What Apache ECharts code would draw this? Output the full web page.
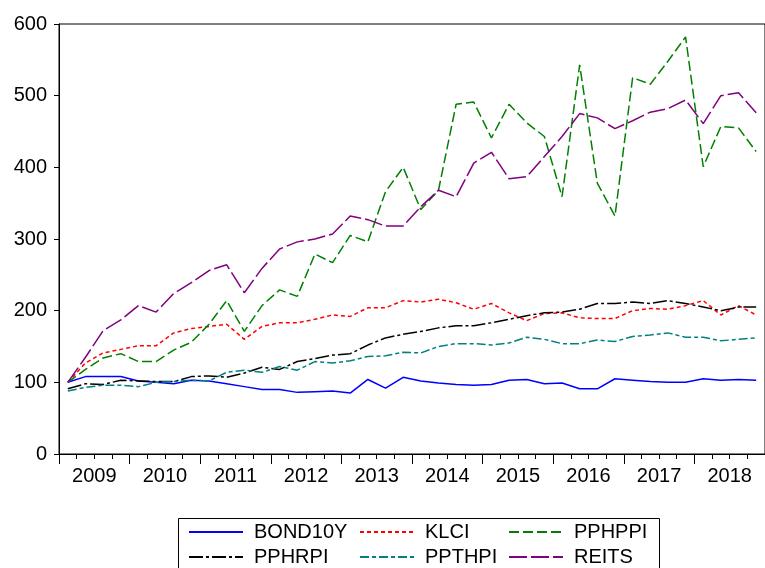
<!DOCTYPE html>
<html>
<head>
<meta charset="utf-8">
<script src="https://cdn.jsdelivr.net/npm/echarts@6/dist/echarts.min.js"></script>
<style>html,body{margin:0;padding:0;background:#fff}#c{width:765px;height:568px}</style>
</head>
<body>
<div id="c"></div>
<script>
const years = ['2009','2010','2011','2012','2013','2014','2015','2016','2017','2018'];
const quarters = [];
years.forEach(y => { for (let q = 1; q <= 4; q++) quarters.push(y + 'Q' + q); });

const BOND10Y = [100,108,108,108,102,100,98,103,102,98,94,90,90,86,87,88,85,104,92,107,102,99,97,96,97,103,104,98,99,91,91,105,103,101,100,100,105,103,104,103];
const KLCI = [100,127,141,146,151,151,169,175,178,181,160,178,183,183,188,194,192,204,204,214,212,216,211,202,210,197,186,196,197,190,189,189,200,203,202,207,214,194,207,194];
const PPHPPI = [100,118,134,140,129,129,145,156,181,214,171,207,229,220,279,267,305,296,366,400,341,368,488,491,441,488,462,443,359,543,378,332,525,516,548,582,401,457,455,422];
const PPHRPI = [91,98,97,103,102,101,101,108,109,107,113,121,118,129,133,138,140,152,162,167,171,176,179,179,183,188,193,197,198,202,210,210,212,210,214,210,205,200,205,205];
const PPTHPI = [88,93,96,96,94,100,101,103,102,114,117,114,122,117,129,127,130,136,137,142,141,150,154,154,152,155,163,160,154,154,159,157,164,166,169,163,163,158,160,162];
const REITS = [100,135,172,187,207,198,224,239,256,264,225,259,286,296,300,307,332,327,318,318,345,368,359,406,421,384,387,415,443,475,469,454,465,477,482,494,461,500,504,476];
const yTicks = [0,100,200,300,400,500,600];

const seriesDefs = [
  {name:'BOND10Y', data:BOND10Y, color:'#0000FF', dash:'solid'},
  {name:'KLCI', data:KLCI, color:'#FF0000', dash:[4,3]},
  {name:'PPHPPI', data:PPHPPI, color:'#008000', dash:[10,4]},
  {name:'PPHRPI', data:PPHRPI, color:'#000000', dash:[14,3,3,3]},
  {name:'PPTHPI', data:PPTHPI, color:'#008080', dash:[9,3,4,3]},
  {name:'REITS', data:REITS, color:'#800080', dash:[18,4]}
];

const font = 'Liberation Sans, Arial, sans-serif';
const legendPos = [
  {left:188, top:522}, {left:359, top:522}, {left:508, top:522},
  {left:188, top:547}, {left:359, top:547}, {left:508, top:547}
];

const chart = echarts.init(document.getElementById('c'), null, {renderer:'canvas'});
chart.setOption({
  animation:false,
  backgroundColor:'#fff',
  grid:{left:59, top:24, right:-12, bottom:114, show:true, borderColor:'#000', borderWidth:1},
  xAxis:[
    {type:'category', data:quarters, boundaryGap:true, position:'bottom',
     axisLine:{lineStyle:{color:'#000', width:1}},
     axisTick:{show:true, interval:0, length:5, inside:false, lineStyle:{color:'#000'}},
     axisLabel:{show:false}, splitLine:{show:false}},
    {type:'category', data:years, boundaryGap:true, position:'bottom',
     axisLine:{show:false},
     axisTick:{show:true, interval:0, length:10, inside:false, lineStyle:{color:'#000'}},
     axisLabel:{show:true, interval:0, margin:12, color:'#000', fontSize:20, fontFamily:font},
     splitLine:{show:false}}
  ],
  yAxis:{type:'value', min:yTicks[0], max:yTicks[yTicks.length-1], interval:100,
     axisLine:{show:true, lineStyle:{color:'#000', width:1}},
     axisTick:{show:true, length:5, inside:false, lineStyle:{color:'#000'}},
     axisLabel:{margin:12, color:'#000', fontSize:20, fontFamily:font},
     splitLine:{show:false}},
  legend: seriesDefs.map((s, i) => ({
    data:[s.name], left:legendPos[i].left, top:legendPos[i].top, padding:0,
    itemWidth:54, itemHeight:14, selectedMode:false,
    itemStyle:{opacity:0, borderWidth:0},
    textStyle:{color:'#000', fontSize:20, fontFamily:font, lineHeight:20, padding:[0,0,0,6]}
  })),
  graphic:[{type:'rect', left:176, top:516, shape:{width:481, height:70},
    style:{fill:'none', stroke:'#000', lineWidth:1}, silent:true}],
  series: seriesDefs.map(s => ({
    name:s.name, type:'line', data:s.data, xAxisIndex:0, yAxisIndex:0,
    symbol:'none', smooth:false, color:s.color,
    lineStyle:{color:s.color, width:1.5, type:s.dash}
  }))
});
</script>
</body>
</html>
